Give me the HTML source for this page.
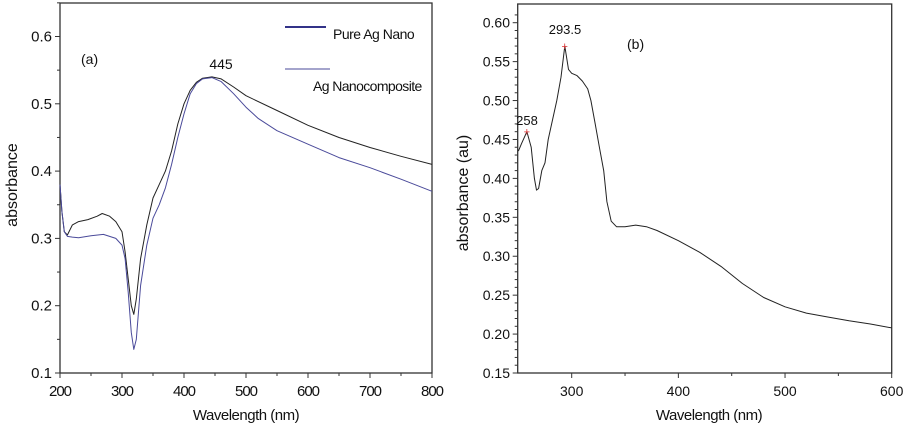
<!DOCTYPE html>
<html><head><meta charset="utf-8"><style>
body{margin:0;background:#fff;width:907px;height:427px;overflow:hidden}
svg text{font-family:"Liberation Sans",sans-serif;fill:#111}
</style></head><body>
<svg id="s" width="907" height="427"></svg>
<script>
// Chart (a) data
const aWave = [200,203,207,212,220,230,245,260,268,280,290,300,305,310,315,319,323,330,340,350,360,370,380,390,400,410,420,430,445,460,480,500,550,600,650,700,750,800];
const aComposite = [0.38,0.34,0.31,0.305,0.32,0.325,0.328,0.333,0.337,0.333,0.325,0.31,0.28,0.24,0.2,0.187,0.21,0.27,0.32,0.36,0.38,0.40,0.43,0.47,0.50,0.52,0.532,0.538,0.54,0.537,0.525,0.512,0.49,0.468,0.45,0.435,0.422,0.41];
const aPureWave = [200,203,207,212,220,230,250,270,290,300,305,310,315,319,323,330,340,350,360,370,380,390,400,410,420,430,445,460,480,500,520,550,600,650,700,750,800];
const aPure = [0.38,0.34,0.31,0.303,0.302,0.301,0.304,0.306,0.30,0.29,0.27,0.22,0.16,0.135,0.15,0.23,0.29,0.33,0.35,0.375,0.41,0.45,0.485,0.515,0.53,0.537,0.539,0.533,0.515,0.495,0.478,0.46,0.44,0.42,0.405,0.388,0.37];
const aXTicks = [200,300,400,500,600,700,800];
const aYTicks = [0.1,0.2,0.3,0.4,0.5,0.6];
// Chart (b) data
const bWave = [250,253,258,262,265,267,269,272,275,278,282,286,290,293.5,297,300,305,310,315,318,322,326,330,333,337,342,350,360,370,380,400,420,440,460,480,500,520,540,560,580,600];
const bAbs = [0.435,0.445,0.46,0.44,0.40,0.385,0.387,0.41,0.42,0.45,0.475,0.50,0.53,0.57,0.54,0.535,0.532,0.525,0.515,0.50,0.47,0.44,0.41,0.37,0.345,0.338,0.338,0.34,0.338,0.333,0.32,0.305,0.287,0.265,0.247,0.235,0.227,0.222,0.217,0.213,0.208];
const bXTicks = [300,400,500,600];
const bYTicks = [0.15,0.20,0.25,0.30,0.35,0.40,0.45,0.50,0.55,0.60];
const bPeaks = [258,293.5];
const bPeakVals = [0.46,0.57];

const NS="http://www.w3.org/2000/svg", svg=document.getElementById('s');
function mk(t,a,txt){const e=document.createElementNS(NS,t);for(const k in a)e.setAttribute(k,a[k]);if(txt!=null)e.textContent=txt;svg.appendChild(e);return e;}

const ax=v=>60+(v-200)*(372/600), ay=v=>373-(v-0.1)*673;
const bx=v=>571.7+(v-300)*(320/300), by=v=>373-(v-0.15)*(350.3/0.45);

function frame(x0,x1,y0,y1,name){
  const r=mk('rect',{x:x0,y:y0,width:x1-x0,height:y1-y0,fill:'none',stroke:'#333','stroke-width':1.3});
  
}
frame(60,432,3,373,'plot-frame-a');
frame(517.7,891.7,4,373,'plot-frame-b');

aXTicks.forEach((t,i)=>{const x=ax(t);
  const l=mk('line',{x1:x,x2:x,y1:373,y2:378,stroke:'#333'});
  const tx=mk('text',{x:x,y:396,'text-anchor':'middle','font-size':15,'letter-spacing':-1},t);
  if(i<aXTicks.length-1){const m=mk('line',{x1:ax(t+50),x2:ax(t+50),y1:373,y2:376,stroke:'#333'});}
});
aYTicks.forEach(t=>{const y=ay(t);
  const l=mk('line',{x1:55,x2:60,y1:y,y2:y,stroke:'#333'});
  const tx=mk('text',{x:52,y:y+5,'text-anchor':'end','font-size':15},t.toFixed(1));
  const m=mk('line',{x1:57,x2:60,y1:ay(t+0.05),y2:ay(t+0.05),stroke:'#333'});
});
bXTicks.forEach(t=>{const x=bx(t);
  const l=mk('line',{x1:x,x2:x,y1:373,y2:378,stroke:'#333'});
  const tx=mk('text',{x:x,y:396,'text-anchor':'middle','font-size':14},t);
  if(t>300){const m=mk('line',{x1:bx(t-50),x2:bx(t-50),y1:373,y2:376,stroke:'#333'});}
});
bYTicks.forEach(t=>{const y=by(t);
  const l=mk('line',{x1:512.7,x2:517.7,y1:y,y2:y,stroke:'#333'});
  const tx=mk('text',{x:510,y:y+5,'text-anchor':'end','font-size':14},t.toFixed(2));
  for(let k=1;k<5;k++){const v=t+k*0.01;if(v<0.62){const m=mk('line',{x1:514.7,x2:517.7,y1:by(v),y2:by(v),stroke:'#333'});}}
});

function line(xs,ys,fx,fy,color,w,name){
  const d=xs.map((x,i)=>(i?'L':'M')+fx(x).toFixed(1)+','+fy(ys[i]).toFixed(1)).join('');
  const p=mk('path',{d:d,fill:'none',stroke:color,'stroke-width':w,'stroke-linejoin':'round'});
  
}
line(aWave,aComposite,ax,ay,'#222',1,'series-ag-nanocomposite');
line(aPureWave,aPure,ax,ay,'#4a4a9a',1,'series-pure-ag-nano');
line(bWave,bAbs,bx,by,'#222',1,'series-absorbance-b');
bPeaks.forEach((p,i)=>{const m=mk('text',{x:bx(p),y:by(bPeakVals[i])+4,'text-anchor':'middle','font-size':11,style:'fill:#d33'},'+');});

function T(x,y,s,txt,name,extra){const t=mk('text',Object.assign({x:x,y:y,'font-size':s},extra||{}),txt);return t;}
let l1=mk('line',{x1:285,x2:326,y1:27,y2:27,stroke:'#333388','stroke-width':2});
T(333,39,14,'Pure Ag Nano','legend-label-pure',{'letter-spacing':-0.5});
let l2=mk('line',{x1:285,x2:330,y1:69,y2:69,stroke:'#4a4a9a','stroke-width':1});
T(313,91,14,'Ag Nanocomposite','legend-label-composite',{'letter-spacing':-0.6});
T(81,64,14,'(a)','panel-label-a');
T(221,69,14,'445','peak-label-445',{'text-anchor':'middle'});
T(246,420,15,'Wavelength (nm)','x-axis-title-a',{'text-anchor':'middle','letter-spacing':-0.5});
T(17,185,16,'absorbance','y-axis-title-a',{'text-anchor':'middle',transform:'rotate(-90 17 185)'});
T(627,49,14,'(b)','panel-label-b');
T(565,34,13,'293.5','peak-label-293',{'text-anchor':'middle'});
T(527,125,13,'258','peak-label-258',{'text-anchor':'middle'});
T(709,420,15,'Wavelength (nm)','x-axis-title-b',{'text-anchor':'middle','letter-spacing':-0.5});
T(468,193,16,'absorbance (au)','y-axis-title-b',{'text-anchor':'middle',transform:'rotate(-90 468 193)'});
</script>
</body></html>
